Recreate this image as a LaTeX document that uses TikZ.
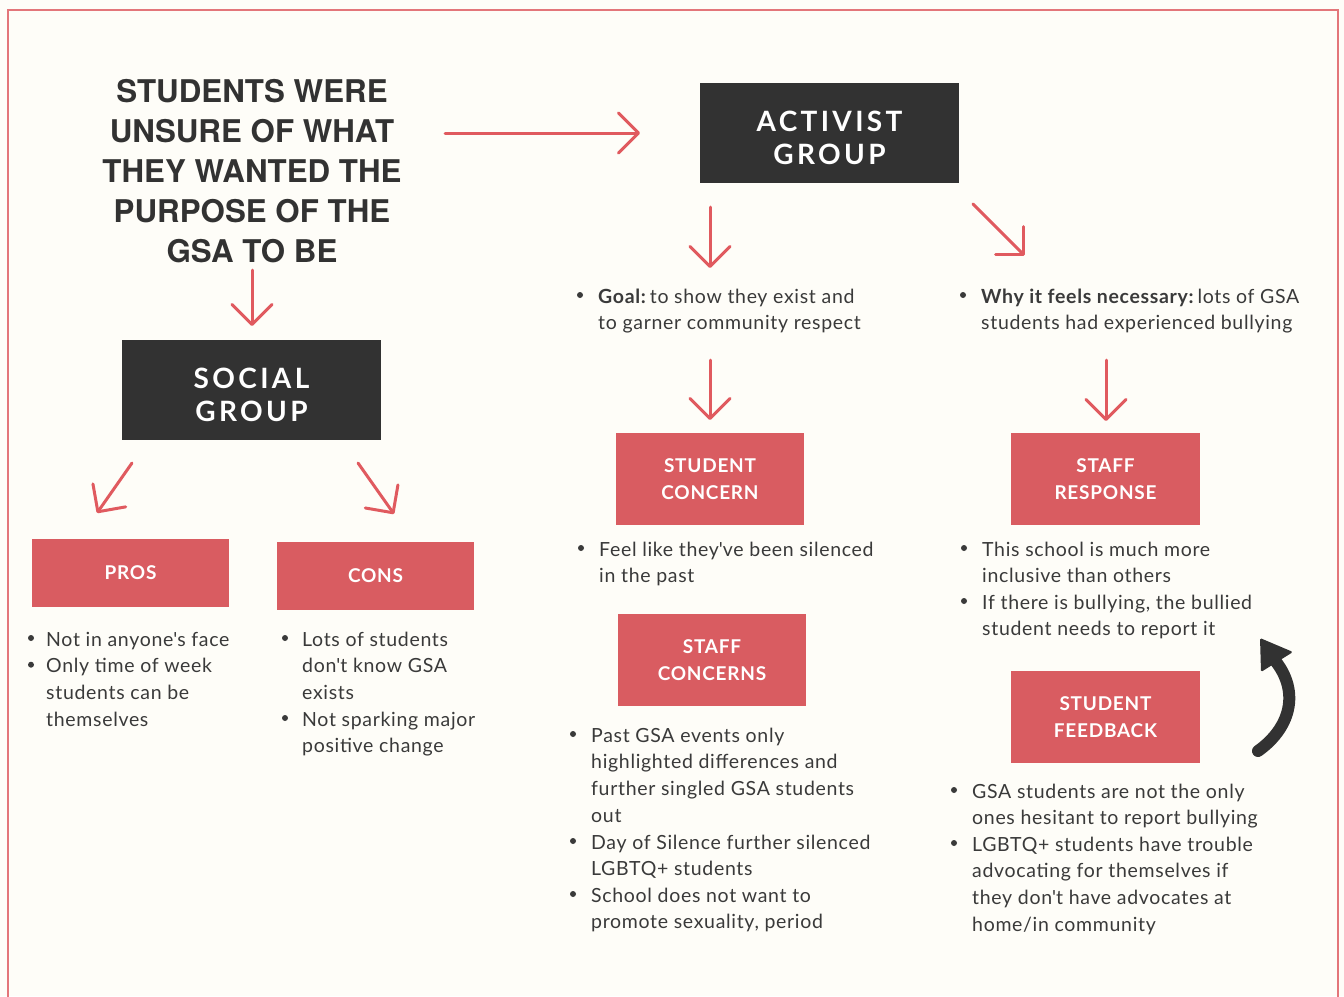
\documentclass[tikz,border=0pt]{standalone}
\usepackage{fontspec}
\setmainfont{Lato}
\newfontfamily\headfont{TeX Gyre Heros}
\usetikzlibrary{arrows.meta}
\definecolor{bg}{HTML}{FEFDF8}
\definecolor{boxred}{HTML}{D95C61}
\definecolor{linered}{HTML}{E05A5F}
\definecolor{framered}{HTML}{E3767A}
\definecolor{dark}{HTML}{323232}
\definecolor{txt}{HTML}{3A3A3A}
\newcommand{\lstack}[1]{\begin{tabular}[t]{@{}l@{}}#1\end{tabular}}
\newcommand{\cstack}[1]{\begin{tabular}[t]{@{}c@{}}#1\end{tabular}}
\newcommand{\apos}{\textquotesingle}
\tikzset{
  darkbox/.style={fill=dark, inner sep=0pt, minimum width=259pt, minimum height=100pt},
  darklabel/.style={anchor=base, inner sep=0pt, text=white,
    font=\fontsize{28}{33}\selectfont\bfseries\addfontfeature{LetterSpace=12}},
  redbox/.style={fill=boxred, text=white, align=center, inner sep=0pt,
    font=\fontsize{19}{27}\selectfont\bfseries\addfontfeature{LetterSpace=4}},
  arr/.style={draw=linered, line width=3pt, line cap=round,
    -{Straight Barb[round,length=20pt,width=40pt]}},
  btext/.style={anchor=base west, inner sep=0pt, text=txt,
    font=\fontsize{19.5}{26.7}\selectfont\addfontfeature{LetterSpace=3.5}},
  dot/.style={circle, fill=txt, inner sep=0pt, minimum size=6pt},
  titletext/.style={anchor=base, inner sep=0pt, text=dark,
    font=\headfont\bfseries\fontsize{31.3}{40}\selectfont}
}
\begin{document}
\begin{tikzpicture}[x=1pt,y=-1pt]
\useasboundingbox (0,0) rectangle (1344,996);
\fill[bg] (0,0) rectangle (1344,996);
\draw[framered, line width=2pt] (8,1010) -- (8,10) -- (1338,10) -- (1338,1010);

% title
\node[titletext] (title) at (252,102) {\cstack{STUDENTS WERE\\UNSURE OF WHAT\\THEY WANTED THE\\PURPOSE OF THE\\GSA TO BE}};

% dark boxes
\node[darkbox] (activist) at (829.5,133) {};
\node[darklabel] (activisttext) at (829.5,131) {\cstack{ACTIVIST\\GROUP}};
\node[darkbox] (social) at (251.5,390) {};
\node[darklabel] (socialtext) at (251.5,388) {\cstack{SOCIAL\\GROUP}};

% red boxes
\node[redbox, minimum width=197pt, minimum height=68pt] (pros) at (130.5,573) {PROS};
\node[redbox, minimum width=197pt, minimum height=68pt] (cons) at (375.5,576) {CONS};
\node[redbox, minimum width=188pt, minimum height=92pt] (sconcern) at (710,479) {STUDENT\\CONCERN};
\node[redbox, minimum width=189pt, minimum height=92pt] (sresponse) at (1105.5,479) {STAFF\\RESPONSE};
\node[redbox, minimum width=188pt, minimum height=92pt] (sconcerns) at (712,660) {STAFF\\CONCERNS};
\node[redbox, minimum width=189pt, minimum height=92pt] (sfeedback) at (1105.5,717) {STUDENT\\FEEDBACK};

% arrows
\coordinate (a1s) at (445,133); \coordinate (a1e) at (640,133);
\coordinate (a2s) at (252,270); \coordinate (a2e) at (252,326);
\coordinate (a3s) at (132,463); \coordinate (a3e) at (97,513);
\coordinate (a4s) at (358,463); \coordinate (a4e) at (394,514);
\coordinate (a5s) at (710,207); \coordinate (a5e) at (710,268);
\coordinate (a6s) at (973,204); \coordinate (a6e) at (1025,256);
\coordinate (a7s) at (710,360); \coordinate (a7e) at (710,420);
\coordinate (a8s) at (1106,360); \coordinate (a8e) at (1106,421);
\foreach \i in {1,...,8} { \draw[arr] (a\i s) -- (a\i e); }

% bullets: pros
\node[dot] (d1) at (31,638) {};
\node[btext] (t1) at (46,646) {Not in anyone\apos s face};
\node[dot] (d2) at (31,664.7) {};
\node[btext] (t2) at (46,672.7) {\lstack{Only time of week\\students can be\\themselves}};
% cons
\node[dot] (d3) at (285,638) {};
\node[btext] (t3) at (302,646) {\lstack{Lots of students\\don\apos t know GSA\\exists}};
\node[dot] (d4) at (285,718) {};
\node[btext] (t4) at (302,726) {\lstack{Not sparking major\\positive change}};
% goal
\node[dot] (d5) at (580,295) {};
\node[btext] (t5) at (598,303) {\lstack{\textbf{Goal:}\,to show they exist and\\to garner community respect}};
% why
\node[dot] (d6) at (963,295) {};
\node[btext] (t6) at (981,303) {\lstack{\textbf{Why it feels necessary:}\,lots of GSA\\students had experienced bullying}};
% student concern
\node[dot] (d7) at (581,548) {};
\node[btext] (t7) at (599,556) {\lstack{Feel like they\apos ve been silenced\\in the past}};
% staff response
\node[dot] (d8) at (964,548) {};
\node[btext] (t8) at (982,556) {\lstack{This school is much more\\inclusive than others}};
\node[dot] (d9) at (964,601) {};
\node[btext] (t9) at (982,609) {\lstack{If there is bullying, the bullied\\student needs to report it}};
% staff concerns
\node[dot] (d10) at (573,734) {};
\node[btext] (t10) at (591,742) {\lstack{Past GSA events only\\highlighted differences and\\further singled GSA students\\out}};
\node[dot] (d11) at (573,841) {};
\node[btext] (t11) at (591,849) {\lstack{Day of Silence further silenced\\LGBTQ+ students}};
\node[dot] (d12) at (573,894) {};
\node[btext] (t12) at (591,902) {\lstack{School does not want to\\promote sexuality, period}};
% student feedback
\node[dot] (d13) at (954,790) {};
\node[btext] (t13) at (972,798) {\lstack{GSA students are not the only\\ones hesitant to report bullying}};
\node[dot] (d14) at (954,843) {};
\node[btext] (t14) at (972,851) {\lstack{LGBTQ+ students have trouble\\advocating for themselves if\\they don\apos t have advocates at\\home/in community}};

% curved black arrow
\draw[dark, line width=12pt, line cap=round] (1258,751) .. controls (1293,726) and (1300,688) .. (1272,657);
\fill[dark, rounded corners=1.5pt] (1260,638) -- (1293,652) -- (1261,672) -- cycle;
\end{tikzpicture}
\end{document}
